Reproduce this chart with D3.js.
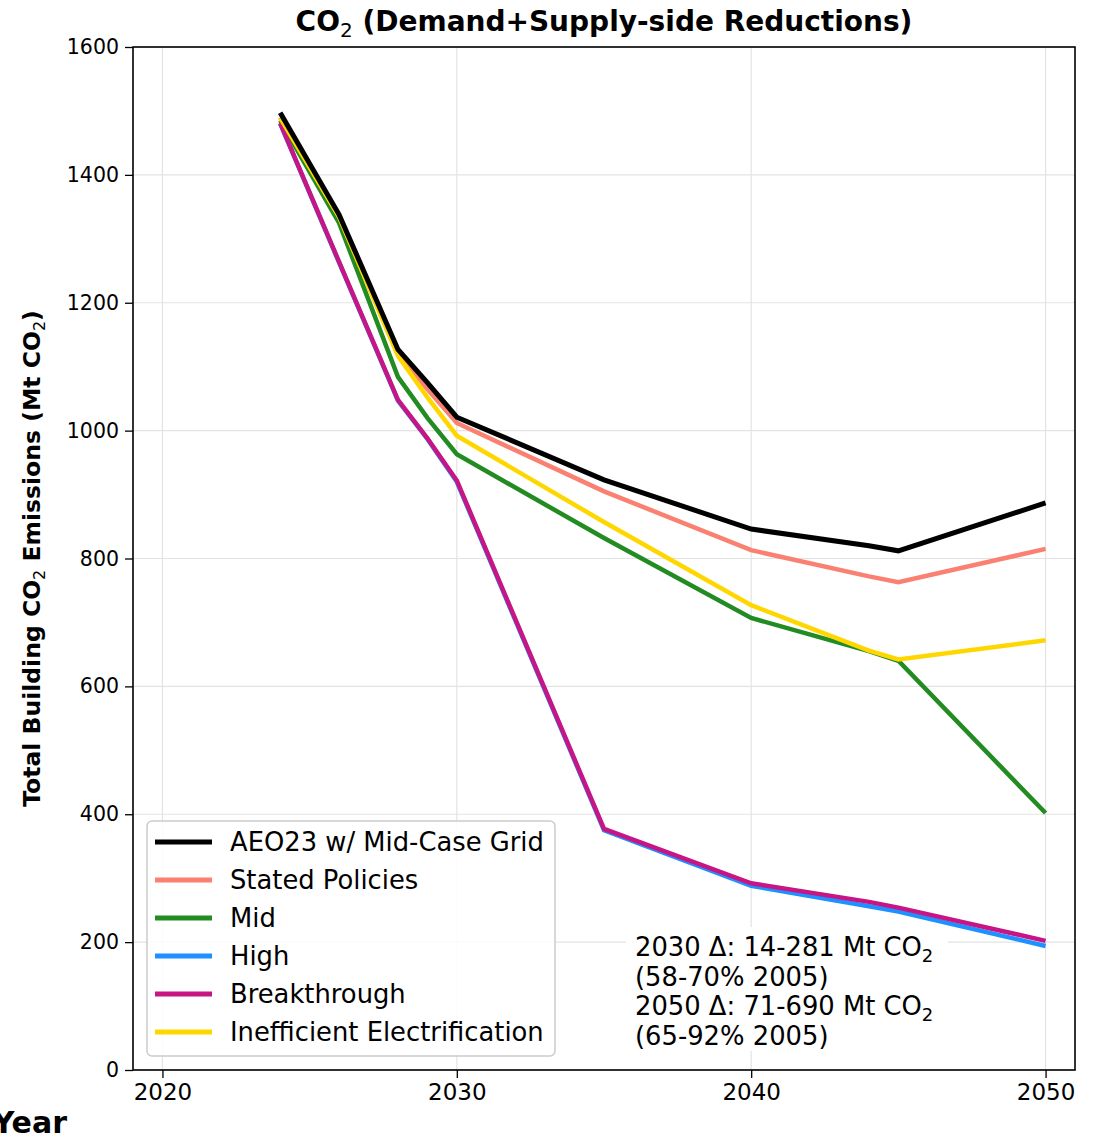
<!DOCTYPE html>
<html>
<head>
<meta charset="utf-8">
<script src="https://cdn.jsdelivr.net/npm/d3@7"></script>
<style>
  body { margin: 0; background: #fff; }
  text { font-family: "DejaVu Sans", sans-serif; }
</style>
</head>
<body>
<script>
// years with data points
const years = [2024, 2026, 2028, 2029, 2030, 2035, 2040, 2044, 2045, 2050];

const aeo23     = [1497, 1338, 1127, 1075, 1021, 923, 846, 820, 812, 887];
const stated    = [1490, 1332, 1120, 1065, 1012, 905, 813, 772, 763, 815];
const mid       = [1485, 1325, 1084, 1020, 963, 832, 707, 655, 640, 402];
const high      = [1480, 1263, 1047, 987, 920, 375, 288, 256, 248, 194];
const breakthru = [1481, 1264, 1048, 988, 922, 377, 292, 263, 254, 202];
const ineffElec = [1489, 1334, 1117, 1052, 992, 857, 727, 656, 642, 672];

const seriesNames = ["AEO23 w/ Mid-Case Grid", "Stated Policies", "Mid", "High", "Breakthrough", "Inefficient Electrification"];
const seriesColors = ["#000000", "#fa8072", "#228b22", "#1e90ff", "#c71585", "#ffd700"];
const seriesValues = [aeo23, stated, mid, high, breakthru, ineffElec];

const xTicks = [2020, 2030, 2040, 2050];
const yTicks = [0, 200, 400, 600, 800, 1000, 1200, 1400, 1600];

const noteLines = [
  ["2030 Δ: 14-281 Mt CO", "2"],
  ["(58-70% 2005)", null],
  ["2050 Δ: 71-690 Mt CO", "2"],
  ["(65-92% 2005)", null]
];

const W = 1094, H = 1138;
const margin = {top: 47, right: 19, bottom: 68, left: 133};
const width = W - margin.left - margin.right,
      height = H - margin.top - margin.bottom;

const svg = d3.select("body").append("svg")
    .attr("width", W)
    .attr("height", H);

const chart = svg.append("g")
    .attr("transform", "translate(" + margin.left + "," + margin.top + ")");

const xScale = d3.scaleLinear().domain([2019, 2051]).range([0, width]);
const yScale = d3.scaleLinear().domain([0, 1600]).range([height, 0]);

// grid
chart.append("g").selectAll("line.gx")
    .data(xTicks).enter().append("line")
    .attr("x1", d => xScale(d)).attr("x2", d => xScale(d))
    .attr("y1", 0).attr("y2", height)
    .attr("stroke", "#e3e3e3").attr("stroke-width", 1.2);
chart.append("g").selectAll("line.gy")
    .data(yTicks).enter().append("line")
    .attr("x1", 0).attr("x2", width)
    .attr("y1", d => yScale(d)).attr("y2", d => yScale(d))
    .attr("stroke", "#e3e3e3").attr("stroke-width", 1.2);

// lines; black drawn last so it stays on top
const line = d3.line()
    .x((d, i) => xScale(years[i]))
    .y(d => yScale(d));
const drawOrder = [1, 2, 3, 4, 5, 0];
drawOrder.forEach(k => {
  chart.append("path")
      .datum(seriesValues[k])
      .attr("d", line)
      .attr("fill", "none")
      .attr("stroke", seriesColors[k])
      .attr("stroke-width", k === 0 ? 5 : 4.5)
      .attr("stroke-linejoin", "miter");
});

// annotation box
const note = chart.append("g")
    .attr("transform", "translate(" + (626 - margin.left) + "," + (927 - margin.top) + ")");
note.append("rect")
    .attr("width", 322).attr("height", 124)
    .attr("fill", "#fff");
noteLines.forEach((ln, i) => {
  const t = note.append("text")
      .attr("x", 9)
      .attr("y", 29 + i * 29.5)
      .attr("font-size", 25.8)
      .attr("fill", "#000")
      .text(ln[0]);
  if (ln[1]) {
    t.append("tspan").attr("dy", 6).attr("font-size", 18).text(ln[1]);
  }
});

// legend
const legend = chart.append("g")
    .attr("transform", "translate(" + (147 - margin.left) + "," + (821 - margin.top) + ")");
legend.append("rect")
    .attr("width", 408).attr("height", 235)
    .attr("rx", 5)
    .attr("fill", "#fff").attr("fill-opacity", 0.85)
    .attr("stroke", "#cccccc").attr("stroke-width", 1.5);
seriesNames.forEach((name, i) => {
  const cy = 21 + i * 38;
  legend.append("line")
      .attr("x1", 8).attr("x2", 65)
      .attr("y1", cy).attr("y2", cy)
      .attr("stroke", seriesColors[i]).attr("stroke-width", 5);
  legend.append("text")
      .attr("x", 83).attr("y", cy + 9)
      .attr("font-size", 25.8)
      .attr("fill", "#000")
      .text(name);
});

// axes
const xAxis = chart.append("g")
    .attr("transform", "translate(0," + height + ")")
    .call(d3.axisBottom(xScale).tickValues(xTicks).tickFormat(d3.format("d")).tickSize(8).tickPadding(6));
xAxis.selectAll("text").attr("font-size", 23).attr("fill", "#000");

const yAxis = chart.append("g")
    .call(d3.axisLeft(yScale).tickValues(yTicks).tickFormat(d3.format("d")).tickSize(8).tickPadding(6));
yAxis.selectAll("text").attr("font-size", 20.5).attr("fill", "#000");

[xAxis, yAxis].forEach(a => {
  a.select(".domain").remove();
  a.selectAll("line").attr("stroke", "#000").attr("stroke-width", 1.3);
  a.selectAll("text").style("font-family", "DejaVu Sans");
});

// frame
chart.append("rect")
    .attr("width", width).attr("height", height)
    .attr("fill", "none")
    .attr("stroke", "#000").attr("stroke-width", 1.6);

// title
const title = svg.append("text")
    .attr("x", margin.left + width / 2)
    .attr("y", 31)
    .attr("text-anchor", "middle")
    .attr("font-size", 28)
    .attr("font-weight", "bold")
    .text("CO");
title.append("tspan").attr("dy", 6).attr("font-size", 20).attr("font-weight", "normal").text("2");
title.append("tspan").attr("dy", -6).text(" (Demand+Supply-side Reductions)");

// y label
const ylab = svg.append("text")
    .attr("transform", "translate(40," + (margin.top + height / 2) + ") rotate(-90)")
    .attr("text-anchor", "middle")
    .attr("font-size", 23.5)
    .attr("font-weight", "bold")
    .text("Total Building CO");
ylab.append("tspan").attr("dy", 5).attr("font-size", 16).attr("font-weight", "normal").text("2");
ylab.append("tspan").attr("dy", -5).text(" Emissions (Mt CO");
ylab.append("tspan").attr("dy", 5).attr("font-size", 16).attr("font-weight", "normal").text("2");
ylab.append("tspan").attr("dy", -5).text(")");

// x label, partly cut off at the left edge as in the source
svg.append("text")
    .attr("x", 67)
    .attr("y", 1133)
    .attr("text-anchor", "end")
    .attr("font-size", 30)
    .attr("font-weight", "bold")
    .text("Year");
</script>
</body>
</html>
